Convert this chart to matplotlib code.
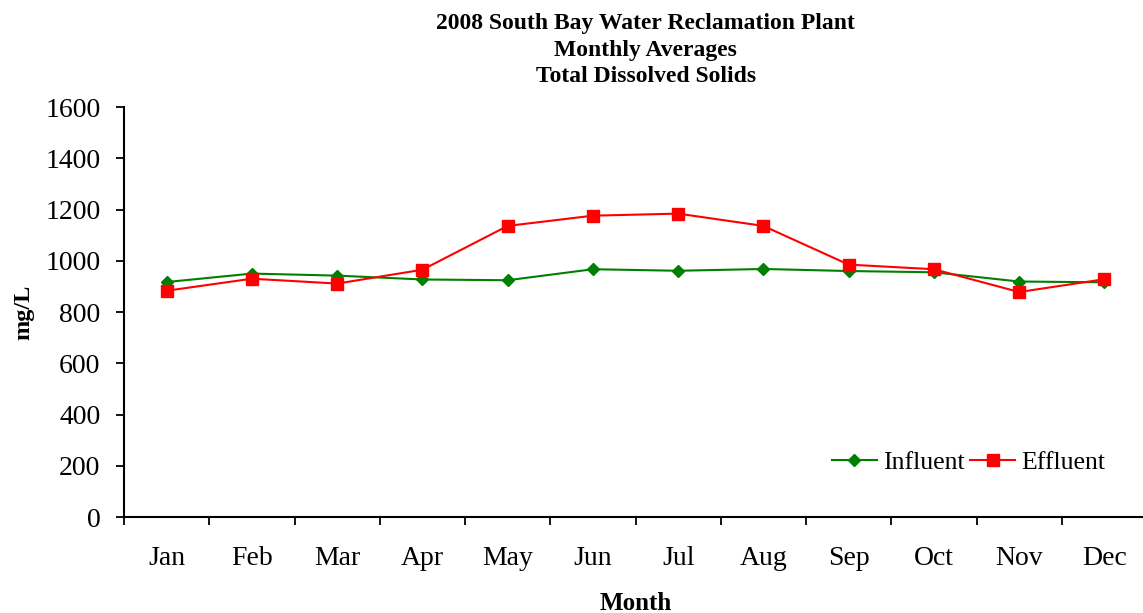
import numpy as np
import matplotlib.pyplot as plt

# Monthly averages of total dissolved solids (mg/L)
months = ["Jan", "Feb", "Mar", "Apr", "May", "Jun",
          "Jul", "Aug", "Sep", "Oct", "Nov", "Dec"]
influent = [917, 950, 942, 927, 924, 967, 961, 968, 960, 955, 919, 916]
effluent = [883, 930, 911, 965, 1136, 1176, 1184, 1136, 985, 967, 878, 928]

plt.rcParams['font.family'] = ['Liberation Serif', 'DejaVu Serif']

fig = plt.figure(figsize=(11.43, 6.13), dpi=100)
ax = fig.add_axes([0.1085, 0.1566, 0.895, 0.6688])

x = np.arange(len(months))
ax.plot(x, influent, color="#008000", lw=1.5, marker="D", ms=6.5, label="Influent")
ax.plot(x, effluent, color="#FF0000", lw=1.5, marker="s", ms=8.5, label="Effluent")

ax.set_xlim(-0.5, len(months) - 0.5)
ax.set_ylim(0, 1600)
ax.set_yticks(range(0, 1601, 200))
ax.set_xticks(x)
ax.set_xticklabels(months)
ax.set_xticks(np.arange(-0.5, len(months), 1), minor=True)

ax.tick_params(axis="y", direction="out", length=6, width=1.3, labelsize=20, pad=11)
ax.tick_params(axis="x", which="major", length=0, labelsize=20, pad=21)
ax.tick_params(axis="x", which="minor", direction="out", length=6, width=1.3)

for s in ["top", "right"]:
    ax.spines[s].set_visible(False)
for s in ["left", "bottom"]:
    ax.spines[s].set_linewidth(1.5)

ax.set_xlabel("Month", fontsize=18, fontweight="bold", labelpad=15)
ax.set_ylabel("mg/L", fontsize=17.5, fontweight="bold", labelpad=8)

fig.text(0.565, 0.978, "2008 South Bay Water Reclamation Plant\nMonthly Averages\nTotal Dissolved Solids",
         ha="center", va="top", fontsize=17, fontweight="bold", linespacing=1.32)

ax.legend(loc="lower right", bbox_to_anchor=(0.982, 0.048), ncol=2, frameon=False,
          fontsize=18.5, handlelength=1.75, handletextpad=0.25, columnspacing=0.2)

fig.savefig("out.png", dpi=100)
